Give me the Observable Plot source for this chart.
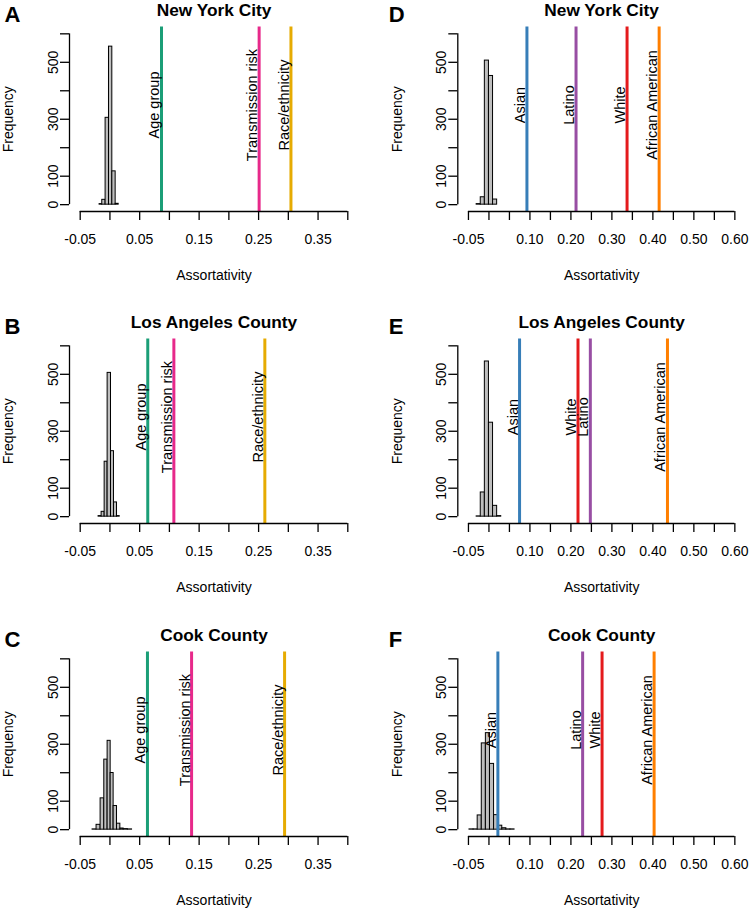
<!DOCTYPE html>
<html><head><meta charset="utf-8">
<script src="https://cdn.jsdelivr.net/npm/d3@7"></script>
<script src="https://cdn.jsdelivr.net/npm/@observablehq/plot@0.6"></script>
<style>
body{margin:0;background:#fff}
#wrap{position:relative;width:750px;height:909px;background:#fff;overflow:hidden}
.panel{position:absolute}
.panel svg{overflow:visible}
</style></head><body><div id="wrap"></div>
<script>
// ---------- data ----------
const panelLetters = ["A", "B", "C", "D", "E", "F"];
const panelTitles = ["New York City", "Los Angeles County", "Cook County", "New York City", "Los Angeles County", "Cook County"];
const xAxisTitle = "Assortativity";
const yAxisTitle = "Frequency";

const xTicksLeft = [-0.05, 0, 0.05, 0.10, 0.15, 0.20, 0.25, 0.30, 0.35, 0.40];
const xLabelsLeft = [-0.05, 0.05, 0.15, 0.25, 0.35];
const xTicksRight = [-0.05, 0, 0.05, 0.10, 0.15, 0.20, 0.25, 0.30, 0.35, 0.40, 0.45, 0.50, 0.55, 0.60];
const xLabelsRight = [-0.05, 0.10, 0.20, 0.30, 0.40, 0.50, 0.60];
const yTicks = [0, 100, 200, 300, 400, 500, 600];
const yLabels = [0, 100, 300, 500];
const lineLabelY = 350;

const attrNames = ["Age group", "Transmission risk", "Race/ethnicity"];
const attrColors = ["#1B9E77", "#E7298A", "#E6AB02"];
const raceNames = ["Asian", "Latino", "White", "African American"];
const raceColors = ["#377EB8", "#984EA3", "#E41A1C", "#FF7F00"];

// histogram bin edges and counts (simulated null assortativity)
const edgesA = [-0.0174, -0.0129, -0.0073, -0.0016, 0.0040, 0.0096, 0.0147];
const countsA = [2, 17, 305, 555, 117, 3];
const edgesB = [-0.0191, -0.0140, -0.0089, -0.0039, 0.0018, 0.0068, 0.0119, 0.0164];
const countsB = [2, 17, 193, 505, 230, 50, 2];
const edgesC = [-0.0292, -0.0225, -0.0157, -0.0095, -0.0039, 0.0012, 0.0062, 0.0119, 0.0175, 0.0231, 0.0301, 0.0372];
const countsC = [1, 17, 110, 246, 312, 199, 83, 21, 4, 2, 1];
const edgesD = [-0.03, -0.02, -0.01, 0, 0.01, 0.02];
const countsD = [2, 26, 506, 452, 18];
const edgesE = [-0.03, -0.02, -0.01, 0, 0.01, 0.02, 0.03];
const countsE = [1, 85, 545, 330, 38, 2];
const edgesF = [-0.0475, -0.0375, -0.0275, -0.0175, -0.0075, 0.0025, 0.0125, 0.0225, 0.0325, 0.0425, 0.0525, 0.0625];
const countsF = [1, 1, 50, 303, 339, 231, 51, 14, 5, 1, 1];

// observed assortativity values
const valuesA = [0.0867, 0.2509, 0.3044];
const valuesB = [0.0636, 0.1075, 0.2605];
const valuesC = [0.0631, 0.1373, 0.2937];
const valuesD = [0.0927, 0.2125, 0.3370, 0.4153];
const valuesE = [0.0747, 0.2474, 0.2173, 0.4356];
const valuesF = [0.0218, 0.2286, 0.2760, 0.4030];

// ---------- build ----------
const panels = [
  {edges: edgesA, counts: countsA, values: valuesA, names: attrNames, colors: attrColors, side: "left"},
  {edges: edgesB, counts: countsB, values: valuesB, names: attrNames, colors: attrColors, side: "left"},
  {edges: edgesC, counts: countsC, values: valuesC, names: attrNames, colors: attrColors, side: "left"},
  {edges: edgesD, counts: countsD, values: valuesD, names: raceNames, colors: raceColors, side: "right"},
  {edges: edgesE, counts: countsE, values: valuesE, names: raceNames, colors: raceColors, side: "right"},
  {edges: edgesF, counts: countsF, values: valuesF, names: raceNames, colors: raceColors, side: "right"}
];

const rowTops = [0, 312, 625];
const font = "'Liberation Sans', Arial, Helvetica, sans-serif";
const wrap = document.getElementById("wrap");
const ext = ([a, b]) => [a - 0.04 * (b - a), b + 0.04 * (b - a)]; // R's xaxs="r"
const has = (arr, v) => arr.some(l => Math.abs(l - v) < 1e-9);

panels.forEach((p, i) => {
  const left = p.side === "left";
  const xTicks = left ? xTicksLeft : xTicksRight;
  const xLabels = left ? xLabelsLeft : xLabelsRight;
  const xDom = ext([xTicks[0], xTicks[xTicks.length - 1]]);
  const yDom = ext([yTicks[0], yTicks[yTicks.length - 1]]);
  const marginLeft = left ? 69 : 82.3;
  const marginRight = left ? 17 : 5;
  const marginTop = 26.5, marginBottom = 74, height = 285;
  const letterX = left ? 4 : 13.3;

  const bins = p.counts.map((c, k) => ({x1: p.edges[k], x2: p.edges[k + 1], count: c}));
  const lines = p.names.map((n, k) => ({name: n, value: p.values[k], color: p.colors[k]}));

  const svg = Plot.plot({
    width: 375, height, marginLeft, marginRight, marginTop, marginBottom,
    x: {domain: xDom},
    y: {domain: yDom},
    color: {type: "identity"},
    style: {fontFamily: font, fontSize: "14px", color: "black", background: "transparent"},
    marks: [
      Plot.rect(bins, {x1: "x1", x2: "x2", y1: 0, y2: "count", fill: "#BEBEBE", stroke: "black", strokeWidth: 1}),
      Plot.ruleX(lines, {x: "value", stroke: "color", strokeWidth: 3}),
      Plot.text(lines, {x: "value", y: () => lineLabelY, text: "name", rotate: -90, textAnchor: "middle", lineAnchor: "bottom", dx: -2, fontSize: 14.5, fill: "black"}),
      // axes
      Plot.ruleY([yDom[0]], {x1: xTicks[0], x2: xTicks[xTicks.length - 1], strokeWidth: 1.3}),
      Plot.ruleX([xDom[0]], {y1: yTicks[0], y2: yTicks[yTicks.length - 1], strokeWidth: 1.3}),
      Plot.axisX({ticks: xTicks, tickSize: 9, tickPadding: 14, strokeWidth: 1.3, fontSize: 14, label: null,
        tickFormat: d => has(xLabels, d) ? d.toFixed(2) : ""}),
      Plot.axisY({ticks: yTicks, tickSize: 9, strokeWidth: 1.3, label: null, tickFormat: () => ""}),
      Plot.text(yLabels, {y: d => d, frameAnchor: "left", text: d => String(d), rotate: -90, textAnchor: "middle", lineAnchor: "bottom", dx: -11.7, fontSize: 14}),
      Plot.text([xAxisTitle], {frameAnchor: "bottom", text: d => d, dy: 68, lineAnchor: "bottom", fontSize: 14}),
      Plot.text([yAxisTitle], {frameAnchor: "left", text: d => d, rotate: -90, textAnchor: "middle", lineAnchor: "bottom", dx: -56.2, fontSize: 14}),
      Plot.text([panelTitles[i]], {frameAnchor: "top", text: d => d, dy: 15.7 - marginTop, lineAnchor: "bottom", fontSize: 17.3, fontWeight: "bold"}),
      Plot.text([panelLetters[i]], {frameAnchor: "top-left", text: d => d, dx: letterX - marginLeft, dy: 21.5 - marginTop, textAnchor: "start", lineAnchor: "bottom", fontSize: 22, fontWeight: "bold"})
    ]
  });
  const div = document.createElement("div");
  div.className = "panel";
  div.style.left = (left ? 0 : 375) + "px";
  div.style.top = rowTops[i % 3] + "px";
  div.appendChild(svg);
  wrap.appendChild(div);
});
</script></body></html>
